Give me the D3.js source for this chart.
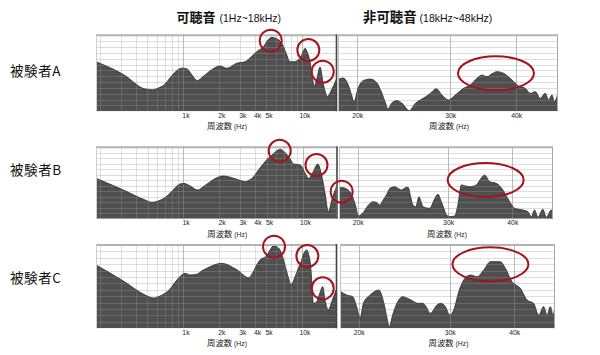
<!DOCTYPE html>
<html><head><meta charset="utf-8">
<script src="https://cdn.jsdelivr.net/npm/d3@7"></script>
<style>body{margin:0;background:#fff}svg{display:block}</style>
</head><body><svg id="c" width="600" height="355"></svg>
<script>
// ---------- data ----------
const subjects = ["被験者A", "被験者B", "被験者C"];
const titleAud = "可聴音", titleAudRange = "(1Hz~18kHz)";
const titleUlt = "非可聴音", titleUltRange = "(18kHz~48kHz)";
const axisLabel = "周波数", axisUnit = " (Hz)";

const audTicks = [1000, 2000, 3000, 4000, 5000, 10000];
const audTickLabels = ["1k", "2k", "3k", "4k", "5k", "10k"];
const ultTicks = [20000, 30000, 40000];
const ultTickLabels = ["20k", "30k", "40k"];
const audGrid = [200,300,400,500,600,700,800,900,1000,2000,3000,4000,5000,6000,7000,8000,9000,10000];
const audGridMajor = [1000, 10000];
const levelGrid = [-60,-55,-50,-45,-40,-35,-30,-25,-20,-15,-10,-5];
const audDomain = [185, 19200];
const ultDomain = [18400, 48000];
const levelDomain = [-65, 0];

// Subject A
const freqA_aud = [185,314,478,552,618,703,774,870,971,1070,1178,1313,1475,1735,2037,2318,2812,3304,3640,4142,4707,5152,5534,6020,6720,7305,7890,8530,9575,10150,10550,11070,11620,12080,12560,13180,14090,15030,16300,17430,19200];
const levelA_aud = [-22.6,-33.5,-45.9,-46.6,-45.1,-41.7,-36.5,-30.8,-28.1,-28.6,-33.7,-38.8,-35.1,-29.4,-26.3,-28.2,-23.9,-22.6,-19.4,-14.0,-9.8,-4.0,-1.7,-2.7,-6.8,-15.1,-22.6,-22.6,-19.7,-14.3,-11.1,-15.1,-22.6,-34.0,-43.4,-38.2,-27.1,-41.6,-52.3,-47.6,-38.2];
const freqA_ult = [18400,18830,19240,19520,19730,20080,20530,21170,21820,22230,22630,22870,23290,23800,24330,25110,25780,26340,26920,27520,28240,28950,29800,30680,31810,32750,33720,34460,35220,36040,36790,37860,39270,40420,41620,42530,43470,44430,45410,46070,46760,47230,48000];
const levelA_ult = [-37.6,-36.5,-42.5,-51.0,-56.8,-45.3,-38.8,-37.4,-41.0,-48.5,-57.9,-63.0,-57.6,-55.9,-58.2,-64.5,-58.2,-55.3,-52.8,-49.6,-45.7,-51.1,-55.3,-51.1,-45.3,-42.5,-36.8,-34.0,-35.4,-32.7,-31.1,-32.5,-38.2,-43.4,-45.3,-49.6,-48.2,-53.9,-49.6,-55.3,-51.1,-56.8,-49.6];

// Subject B
const freqB_aud = [185,314,478,544,614,703,805,904,1002,1140,1313,1495,1680,1922,2172,2635,3000,3305,3570,3880,4250,4708,5158,5538,6018,6505,7027,7637,8410,9574,10345,11240,12240,13380,14290,15380,16400,17680,19200];
const levelB_aud = [-28.2,-38.9,-48.0,-50.1,-48.9,-45.7,-39.8,-34.3,-32.8,-35.2,-38.9,-35.2,-31.3,-27.5,-26.1,-28.2,-30.2,-31.3,-29.8,-26.8,-20.7,-14.6,-9.7,-7.0,-3.4,-1.8,-4.3,-8.6,-15.2,-16.1,-22.5,-28.2,-22.2,-15.2,-23.7,-41.6,-58.6,-46.4,-35.9];
const freqB_ult = [18400,18620,19180,19610,19850,20050,20500,20930,21430,21790,22080,22430,22760,23150,23620,24000,24340,24700,25070,25370,25630,25950,26330,26590,26810,27620,28180,28660,29100,29470,29760,30340,30890,31350,31830,32450,33040,34040,34700,35330,36130,37230,38350,39520,40410,41940,42890,43550,44200,44860,45870,46580,47630,48000];
const levelB_ult = [-37.3,-36.6,-38.9,-46.4,-54.4,-62.5,-59.5,-53.4,-49.5,-50.3,-52.5,-48.0,-43.4,-37.1,-35.9,-37.5,-38.9,-37.1,-36.4,-45.2,-52.5,-54.1,-45.0,-49.8,-54.1,-55.5,-48.0,-42.8,-49.5,-56.2,-61.6,-63.0,-62.5,-52.5,-34.3,-35.2,-35.9,-34.3,-28.9,-25.2,-31.3,-32.8,-38.9,-49.5,-55.5,-57.1,-58.6,-63.2,-57.1,-63.7,-56.4,-63.7,-57.1,-60.7];

// Subject C
const freqC_aud = [185,314,478,561,638,775,870,971,1035,1140,1298,1424,1575,1815,2106,2378,2635,2886,3197,3523,3880,4168,4418,5028,5360,5713,6136,6505,6960,7404,7740,8045,8693,9301,9894,10345,10900,11394,11730,12075,12380,13225,13960,14850,15530,16560,17680,19200];
const levelC_aud = [-15.6,-28.1,-39.0,-41.4,-39.8,-34.3,-28.1,-23.4,-22.1,-23.4,-22.9,-20.3,-18.2,-15.6,-14.3,-15.6,-17.7,-19.9,-23.4,-25.6,-20.8,-15.2,-11.7,-8.3,-3.9,-0.6,-1.6,-3.9,-11.7,-20.8,-27.3,-31.2,-24.7,-17.9,-11.7,-6.2,-3.9,-8.6,-15.6,-31.2,-45.5,-44.2,-38.2,-32.5,-42.9,-50.7,-44.2,-35.1];
const freqC_ult = [18400,18950,19470,19820,20120,20420,21050,21870,22420,22690,22920,23270,23800,24330,24800,25250,26040,26620,27020,27520,28370,28790,29440,30020,30560,31250,31950,32920,33920,34930,35990,37610,38460,39630,41120,42370,43630,44620,45620,46320,47010,47580,48000];
const levelC_ult = [-35.9,-39.0,-40.3,-48.1,-57.2,-45.5,-39.0,-35.1,-46.8,-57.0,-63.8,-54.6,-44.2,-40.3,-41.4,-42.9,-45.5,-45.5,-48.1,-53.3,-46.8,-45.5,-48.1,-54.6,-50.7,-36.4,-27.3,-23.4,-24.7,-19.5,-13.0,-13.0,-18.2,-28.6,-33.8,-42.9,-45.5,-54.6,-48.1,-54.6,-48.1,-54.6,-47.4];

// highlighted regions (red marks)
const markA_panel = ["aud","aud","aud","ult"];
const markA_kind  = ["peak","peak","peak","band"];
const markA_freq  = [5433, 11240, 14850, 36630];
const markA_level = [-4.6, -12.6, -31.1, -32.5];
const markB_panel = ["aud","aud","ult","ult"];
const markB_kind  = ["peak","peak","peak","band"];
const markB_freq  = [6417, 13050, 18620, 35500];
const markB_level = [-3.1, -16.1, -40.4, -29.8];
const markC_panel = ["aud","aud","aud","ult"];
const markC_kind  = ["peak","peak","peak","band"];
const markC_freq  = [5790, 11030, 14850, 35990];
const markC_level = [-1.3, -8.6, -33.8, -15.1];

// ---------- layout ----------
const rows = [
  {top:35.3, bottom:111.3, lx:[96,336], rx:[338,558], labelY:76,
   aud:[freqA_aud, levelA_aud], ult:[freqA_ult, levelA_ult],
   marks:[markA_panel, markA_kind, markA_freq, markA_level]},
  {top:147.3, bottom:218.7, lx:[96,336.5], rx:[339,553], labelY:175,
   aud:[freqB_aud, levelB_aud], ult:[freqB_ult, levelB_ult],
   marks:[markB_panel, markB_kind, markB_freq, markB_level]},
  {top:245, bottom:328.3, lx:[96,336], rx:[340,555], labelY:283,
   aud:[freqC_aud, levelC_aud], ult:[freqC_ult, levelC_ult],
   marks:[markC_panel, markC_kind, markC_freq, markC_level]}
];

const CJK = "'Noto Sans CJK JP','Noto Sans CJK SC',sans-serif";
const LAT = "'Liberation Sans',Arial,sans-serif";
const FILL = "#4f4f4f", LINE = "#2a2a2a", RED = "#a3151d";

const svg = d3.select("#c");
const defs = svg.append("defs");

// titles
const t1 = svg.append("text").attr("x",176.5).attr("y",21.5).attr("fill","#111");
t1.append("tspan").attr("font-family",CJK).attr("font-weight","bold").attr("font-size",13).text(titleAud);
t1.append("tspan").attr("dx",4).attr("font-family",LAT).attr("font-size",10.5).text(titleAudRange);
const t2 = svg.append("text").attr("x",363).attr("y",21.5).attr("fill","#111");
t2.append("tspan").attr("font-family",CJK).attr("font-weight","bold").attr("font-size",13.4).text(titleUlt);
t2.append("tspan").attr("dx",3).attr("font-family",LAT).attr("font-size",10.5).text(titleUltRange);

function drawPanel(g, id, x, y, r, range, series, grid, gridMajor, ticks, tickLabels, labelOffset, isLeft) {
  const [x0, x1] = range;
  defs.append("clipPath").attr("id", id).append("rect")
    .attr("x", x0).attr("y", r.top).attr("width", x1 - x0).attr("height", r.bottom - r.top);
  const pg = g.append("g").attr("clip-path", `url(#${id})`);
  pg.append("rect").attr("x",x0).attr("y",r.top).attr("width",x1-x0).attr("height",r.bottom-r.top).attr("fill","#fff");
  const pts = series[0].map((f, i) => ({f, v: series[1][i]}));
  const area = d3.area().x(d => x(d.f)).y0(r.bottom).y1(d => y(d.v)).curve(d3.curveMonotoneX);
  const line = d3.line().x(d => x(d.f)).y(d => y(d.v)).curve(d3.curveMonotoneX);
  pg.append("path").datum(pts).attr("d", area).attr("fill", FILL);
  // grid overlay
  pg.selectAll("line.h").data(levelGrid).join("line")
    .attr("x1", x0).attr("x2", x1).attr("y1", d => Math.round(y(d)) + 0.5).attr("y2", d => Math.round(y(d)) + 0.5)
    .attr("stroke", "#9c9c9c").attr("stroke-opacity", 0.33).attr("stroke-width", 1);
  pg.selectAll("line.v").data(grid).join("line")
    .attr("x1", d => Math.round(x(d)) + 0.5).attr("x2", d => Math.round(x(d)) + 0.5)
    .attr("y1", r.top).attr("y2", r.bottom)
    .attr("stroke", d => gridMajor.includes(d) ? "#868686" : "#9c9c9c")
    .attr("stroke-opacity", d => gridMajor.includes(d) ? 0.55 : 0.3).attr("stroke-width", 1);
  pg.append("path").datum(pts).attr("d", line).attr("fill", "none").attr("stroke", LINE).attr("stroke-width", 0.8);
  // frame
  g.append("line").attr("x1", x0).attr("x2", x1).attr("y1", r.top).attr("y2", r.top)
    .attr("stroke", "#b3b3b3").attr("stroke-width", 2);
  if (isLeft) {
    g.append("line").attr("x1", x0 + 0.5).attr("x2", x0 + 0.5).attr("y1", r.top).attr("y2", r.bottom)
      .attr("stroke", "#cfcfcf").attr("stroke-width", 1);
    g.append("line").attr("x1", x1 + 0.5).attr("x2", x1 + 0.5).attr("y1", r.top - 1).attr("y2", r.bottom)
      .attr("stroke", "#444").attr("stroke-width", 1.6);
  } else {
    g.append("line").attr("x1", x0 + 0.5).attr("x2", x0 + 0.5).attr("y1", r.top).attr("y2", r.bottom)
      .attr("stroke", "#c4c4c4").attr("stroke-width", 1);
    g.append("line").attr("x1", x1 - 0.5).attr("x2", x1 - 0.5).attr("y1", r.top).attr("y2", r.bottom)
      .attr("stroke", "#a8a8a8").attr("stroke-width", 1);
  }
  // axis labels
  const ax = d3.axisBottom(x).tickValues(ticks).tickFormat((d, i) => tickLabels[i]).tickSize(0).tickPadding(1.8);
  const ag = g.append("g").attr("transform", `translate(0,${r.bottom})`).call(ax);
  ag.select(".domain").remove();
  ag.selectAll("text").attr("font-family", LAT).attr("font-size", 6.8).attr("fill", "#222").attr("x", labelOffset);
  const lbl = g.append("text").attr("x", (x0 + x1) / 2 + (isLeft ? 11 : 1)).attr("y", r.bottom + 18)
    .attr("text-anchor", "middle").attr("fill", "#222");
  lbl.append("tspan").attr("font-family", CJK).attr("font-size", 8.4).text(axisLabel);
  lbl.append("tspan").attr("font-family", LAT).attr("font-size", 6.8).text(axisUnit);
}

rows.forEach((r, i) => {
  const g = svg.append("g");
  const y = d3.scaleLinear().domain(levelDomain).range([r.bottom, r.top]);
  const xl = d3.scaleLog().domain(audDomain).range(r.lx);
  const xr = d3.scaleLog().domain(ultDomain).range(r.rx);
  drawPanel(g, "clipL" + i, xl, y, r, r.lx, r.aud, audGrid, audGridMajor, audTicks, audTickLabels, 2.2, true);
  drawPanel(g, "clipR" + i, xr, y, r, r.rx, r.ult, ultTicks, ultTicks, ultTicks, ultTickLabels, 0, false);
  // row label
  svg.append("text").attr("x", 10).attr("y", r.labelY).attr("font-family", CJK).attr("font-size", 13.5)
    .attr("fill", "#111").attr("letter-spacing", 0.6).text(subjects[i]);
  // red marks
  const [mp, mk, mf, ml] = r.marks;
  mf.forEach((f, j) => {
    const sx = mp[j] === "aud" ? xl : xr;
    const band = mk[j] === "band";
    svg.append("ellipse").attr("cx", sx(f)).attr("cy", y(ml[j]))
      .attr("rx", band ? 38 : 11).attr("ry", band ? 17 : 11)
      .attr("fill", "none").attr("stroke", RED).attr("stroke-width", 2);
  });
});
</script>
</body></html>
